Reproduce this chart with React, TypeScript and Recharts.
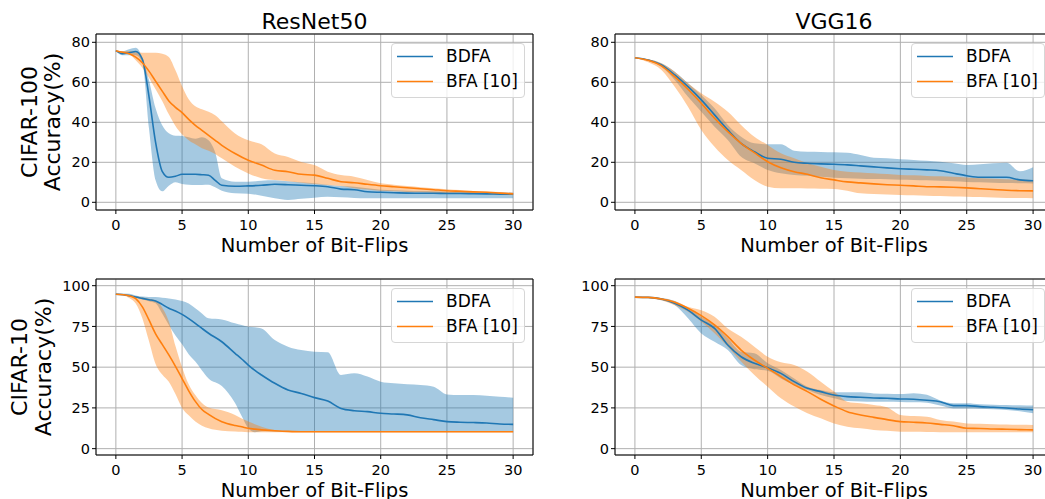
import React from 'react';
import {
  ComposedChart,
  Area,
  Line,
  XAxis,
  YAxis,
  CartesianGrid,
  ReferenceArea,
  Legend,
} from 'recharts';

/* =======================
   Colors / fonts
======================= */
const BLUE = '#1f77b4';
const ORANGE = '#ff7f0e';
const FONT = '"DejaVu Sans", sans-serif';

/* =======================
   Axes
======================= */
const X_TICKS = [0, 5, 10, 15, 20, 25, 30];
const X_DOMAIN: [number, number] = [-1.5, 31.5];
const Y_TICKS_C100 = [0, 20, 40, 60, 80];
const Y_TICKS_C10 = [0, 25, 50, 75, 100];

const LEGEND_ITEMS = [
  { name: 'BDFA', color: BLUE },
  { name: 'BFA [10]', color: ORANGE },
];

/* =======================
   ResNet50 / CIFAR-100
======================= */
const rn100Flips = [
  0, 0.5, 1, 1.5, 2, 2.5, 3, 3.5, 4, 4.5, 5, 5.5, 6, 6.5, 7, 7.5, 8,
  9, 10, 11, 12, 13, 14, 15, 16, 17, 18, 19, 20, 21, 22, 23, 24, 25, 26, 27, 28, 29, 30,
];
const rn100Bdfa = [
  75.8, 74.3, 74.8, 75.4, 71.5, 53, 30, 15.5, 12.5, 13, 14, 14, 14, 13.8, 13.5, 11, 8.5,
  8, 8.2, 8.5, 9, 8.8, 8.5, 8.3, 7.8, 6.6, 6.3, 5.3, 5, 4.8, 4.6, 4.5, 4.5, 4.4, 4.4, 4.3, 4.2, 4.1, 4,
];
const rn100BdfaHi = [
  76, 75.5, 76.5, 77.3, 72.5, 61, 47, 38.5, 34.5, 33.3, 33.2, 32.5, 31.8, 32.5, 31, 25, 12,
  10.3, 10.3, 10.8, 11, 10.5, 10, 9.5, 8.8, 8.2, 7.8, 7, 6.3, 6, 5.8, 5.6, 5.5, 5.3, 5.2, 5.1, 5, 4.9, 4.8,
];
const rn100BdfaLo = [
  75.5, 73.5, 73.5, 73.5, 69.8, 37, 11, 5.5, 8.3, 10, 9.1, 8.8, 8.6, 8.7, 8.8, 7.5, 5.8,
  4.5, 4.3, 3.3, 2, 1.2, 1.8, 2.3, 2.8, 2.5, 2.2, 2, 2, 2, 2, 2, 2, 2, 2, 2, 2, 2, 2,
];
const rn100Bfa = [
  75.8, 75, 74.3, 72.6, 69.8, 65.6, 60.6, 55.6, 50.7, 47.5, 44.8, 41.5, 38.5, 36, 33.5, 31, 28.5,
  24.4, 21, 18.6, 16, 15.3, 14, 13.6, 12, 10.3, 9.8, 9, 8.3, 7.8, 7.3, 6.8, 6.3, 5.8, 5.5, 5.2, 5, 4.6, 4.2,
];
const rn100BfaHi = [
  75.8, 75.6, 75.6, 75, 74.8, 74.8, 74.8, 74.3, 72.6, 66, 58, 51.5, 48, 46.5, 45.3, 43.5, 40.5,
  34.4, 31, 29, 24.4, 22.7, 20.2, 18.6, 15.3, 13.6, 12.8, 11.1, 9.5, 8.8, 8.1, 7.5, 7, 6.5, 6.1, 5.7, 5.4, 5.1, 4.8,
];
const rn100BfaLo = [
  75.5, 74.5, 74, 71, 67.3, 62.3, 56.5, 50.7, 44, 38.2, 34, 31, 29, 27, 25.8, 24.2, 22,
  17.8, 14.4, 12, 11.1, 10.5, 9.8, 9.1, 8.6, 8.1, 7, 6.4, 5.8, 5.5, 5.2, 5, 4.8, 4.5, 4.3, 4.1, 4, 3.8, 3.7,
];

/* =======================
   VGG16 / CIFAR-100
======================= */
const vggFlips = [
  0, 1, 2, 3, 4, 5, 6, 7, 8, 9, 10, 11, 12, 13, 14, 15, 16, 17, 18, 19, 20,
  21, 22, 23, 24, 25, 26, 27, 28, 29, 30,
];
const vgg100Bdfa = [
  72.3, 71.2, 68.7, 63.7, 57.8, 51.2, 43.7, 36.2, 29.5, 25.3, 22, 21.5, 20, 19.5, 19.2, 19,
  18.7, 18.2, 17.7, 17.2, 16.8, 16.5, 16.2, 15.8, 14.5, 13.3, 12.5, 12.5, 12.5, 11.2, 10.8,
];
const vgg100BdfaHi = [
  72.3, 71.5, 69.5, 65.3, 59.5, 53.7, 47, 38.7, 32.8, 29.5, 29, 29, 25.8, 25.3, 25.2, 25,
  24.8, 23.7, 22.3, 22, 21.5, 21.2, 20.8, 20.3, 19.5, 18.7, 19, 19.5, 19.8, 15.5, 17.5,
];
const vgg100BdfaLo = [
  72.3, 70.8, 67.8, 61.2, 52.8, 45.3, 37.8, 31.2, 22.8, 19.5, 16.2, 14.5, 13.7, 13.3, 12.8, 12.3,
  12, 11.8, 11.6, 11.5, 11.3, 11.2, 11, 10.8, 10.5, 10.2, 10, 9.8, 9.6, 9.5, 9.4,
];
const vgg100Bfa = [
  72.3, 71, 68.2, 62.8, 56.5, 49.5, 42, 35.3, 29.5, 24.8, 20.3, 17.3, 15.3, 14, 12.3, 11.2,
  10.2, 9.7, 9.2, 8.8, 8.5, 8.2, 7.8, 7.7, 7.5, 7.2, 6.8, 6.4, 6, 5.8, 5.7,
];
const vgg100BfaHi = [
  72.3, 71.5, 69.5, 65.3, 59.5, 54.5, 50.3, 45.3, 38.7, 32.8, 28.7, 24.5, 22, 19.5, 17.8, 16.2,
  15.3, 14.9, 14.5, 14.1, 13.7, 13.5, 13.2, 13, 12.8, 12.4, 12, 11.8, 11.5, 11.3, 11.2,
];
const vgg100BfaLo = [
  72.3, 70, 66.2, 57.8, 47.8, 36.2, 27.8, 21.2, 16.2, 11.2, 7.8, 7, 7, 6.9, 6.8, 6.7,
  5.8, 4.5, 4.2, 3.9, 3.7, 3.5, 3.3, 3.1, 2.9, 2.8, 2.6, 2.4, 2.2, 2.1, 2,
];

/* =======================
   ResNet50 / CIFAR-10
======================= */
const rn10Flips = [
  0, 1, 1.5, 2, 2.5, 3, 3.5, 4, 4.5, 5, 5.5, 6, 6.5, 7, 8, 9, 9.5, 10, 10.5, 11,
  12, 13, 14, 15, 16, 17, 18, 19, 20, 21, 22, 23, 24, 25, 26, 27, 28, 29, 30,
];
const rn10Bdfa = [
  94.7, 93.9, 93, 92.2, 91.4, 90.6, 88.5, 86.1, 84.5, 82.4, 79.8, 76.9, 73.8, 70.8, 65.6, 58.5,
  55, 51.3, 48, 45.2,
  40.1, 36, 33.9, 31.3, 29.2, 24.7, 23.3, 22.7, 21.7, 21.3, 20.7, 19, 17.8, 16.6, 16.2, 16, 15.7, 15.1, 14.9,
];
const rn10BdfaHi = [
  95.3, 95, 94, 93.3, 93, 93, 92.6, 92.2, 91.5, 90.6, 89, 86.1, 83, 80, 79.3, 76.9,
  75.8, 74.8, 74.5, 73.8,
  66.7, 62.6, 60.5, 59.5, 59.1, 45.2, 46.2, 44.2, 41.1, 40.1, 39.5, 39.1, 38, 33.3, 32.9, 32.9, 32.5, 31.9, 31.3,
];
const rn10BdfaLo = [
  94.7, 93.5, 92.5, 91.5, 90.5, 89.2, 83, 75.9, 69.5, 64, 58, 53.4, 48, 43.1, 38.5, 28,
  20, 12.5, 10, 10.6,
  10.5, 10.4, 10.4, 10.4, 10.4, 10.4, 10.4, 10.4, 10.4, 10.4, 10.4, 10.4, 10.4, 10.4, 10.4, 10.4, 10.4, 10.4, 10.4,
];
const rn10Bfa = [
  94.7, 93.8, 92, 87, 79, 70.5, 64, 57.5, 50.5, 43, 35.5, 29, 24, 21, 16.5, 14.2,
  13.4, 12.5, 12, 11.5,
  11, 10.6, 10.4, 10.4, 10.4, 10.4, 10.4, 10.4, 10.4, 10.4, 10.4, 10.4, 10.4, 10.4, 10.4, 10.4, 10.4, 10.4, 10.4,
];
const rn10BfaHi = [
  94.7, 94.3, 93.5, 92.8, 92, 91, 86.5, 78, 63, 50, 39.5, 32.9, 28, 25.2, 23.5, 20.7,
  18.5, 16.6, 15, 13.5,
  11.5, 10.8, 10.5, 10.5, 10.5, 10.5, 10.5, 10.5, 10.5, 10.5, 10.5, 10.5, 10.5, 10.5, 10.5, 10.5, 10.5, 10.5, 10.5,
];
const rn10BfaLo = [
  94.7, 92.5, 89, 80, 66, 52, 45.5, 41, 33.5, 25, 20.5, 16.6, 14, 12.5, 11, 10.5,
  10.3, 10, 10, 10,
  10, 10, 10, 10, 10, 10, 10, 10, 10, 10, 10, 10, 10, 10, 10, 10, 10, 10, 10,
];

/* =======================
   VGG16 / CIFAR-10
======================= */
const vgg10Bdfa = [
  93, 92.8, 91.8, 89.2, 85, 78.9, 73.8, 63.6, 56.4, 52.4, 49.7, 46.2, 41.1, 37, 35, 32.9,
  31.9, 31.5, 31.1, 30.9, 30.5, 30.3, 29.7, 28.8, 26.4, 26.4, 25.8, 25.4, 24.9, 24.3, 23.9,
];
const vgg10BdfaHi = [
  93, 93, 92.5, 90.6, 86.1, 81, 75.9, 67.7, 59.5, 58.5, 52.4, 48.3, 43.1, 38, 36, 34.6,
  34.6, 34.6, 33.9, 33.7, 33.5, 34, 33, 29.5, 27.8, 27.8, 27.2, 27, 26.8, 26.6, 26.4,
];
const vgg10BdfaLo = [
  93, 92.5, 91, 88.1, 80, 70.7, 65.6, 60.5, 51.3, 48.7, 47.8, 43.1, 39.1, 36, 32.9, 30.9,
  29.2, 29, 28.8, 28.8, 28.6, 28.4, 28.2, 26.4, 24.7, 24.7, 24.5, 24.2, 23.7, 23, 21.7,
];
const vgg10Bfa = [
  93, 92.8, 91.8, 89.8, 86.1, 81.6, 75.9, 68.7, 60.5, 54.4, 49.3, 44.2, 39.1, 35, 30.3, 26.2,
  22.7, 20.7, 19.2, 17.8, 16.6, 16.2, 15.7, 14.9, 14.1, 12.5, 12.4, 12.1, 11.9, 11.7, 11.5,
];
const vgg10BfaHi = [
  93, 93, 92.5, 90.6, 87.1, 85, 81, 73.8, 68.7, 62.6, 56.4, 53, 51.3, 47.2, 41.1, 35,
  28.8, 27.8, 26.8, 25.4, 20.7, 20, 19.6, 17.6, 16.6, 15.5, 15.2, 15, 14.8, 14.6, 14.5,
];
const vgg10BfaLo = [
  93, 92.5, 91, 88, 84, 77.9, 70.8, 62.6, 53.4, 45.2, 38, 30.9, 25.8, 21.7, 18.6, 15.5,
  13.5, 12.5, 11.5, 11, 10.4, 10.3, 10.2, 10.1, 10, 10, 10, 10, 10, 10, 10,
];

/* =======================
   Legend
======================= */
const LegendBox = () => (
  <div
    style={{
      position: 'relative',
      width: 134,
      height: 55,
      boxSizing: 'border-box',
      border: '1px solid #d6d6d6',
      borderRadius: 4,
      background: 'rgba(255,255,255,0.8)',
      fontFamily: FONT,
      fontSize: 17,
      color: '#000',
    }}
  >
    {LEGEND_ITEMS.map((item, i) => (
      <div
        key={item.name}
        style={{ position: 'absolute', left: 0, top: 2.2 + i * 25, width: '100%', height: 21 }}
      >
        <svg width={40} height={21} style={{ position: 'absolute', left: 3, top: 0 }}>
          <line x1={2} x2={38} y1={10.5} y2={10.5} stroke={item.color} strokeWidth={1.7} />
        </svg>
        <span style={{ position: 'absolute', left: 54, top: 0, lineHeight: '21px', whiteSpace: 'nowrap' }}>
          {item.name}
        </span>
      </div>
    ))}
  </div>
);

/* =======================
   Panel
======================= */
interface PanelProps {
  flips: number[];
  bdfa: number[];
  bdfaLo: number[];
  bdfaHi: number[];
  bfa: number[];
  bfaLo: number[];
  bfaHi: number[];
  yTicks: number[];
  yDomain: [number, number];
  left: number;
  top: number;
  width: number;
  height: number;
  yAxisWidth: number;
  marginTop: number;
  xAxisHeight: number;
  legendLeft: number;
  legendTop: number;
  labelOffset: number;
}

const tickStyle = { fontSize: 14.5, fill: '#000', fontFamily: FONT };

const Panel: React.FC<PanelProps> = (p) => {
  const data = p.flips.map((x, i) => ({
    x,
    bdfa: p.bdfa[i],
    bfa: p.bfa[i],
    bdfaBand: [p.bdfaLo[i], p.bdfaHi[i]],
    bfaBand: [p.bfaLo[i], p.bfaHi[i]],
  }));

  return (
    <div style={{ position: 'absolute', left: p.left, top: p.top }}>
      <ComposedChart
        width={p.width}
        height={p.height}
        data={data}
        margin={{ top: p.marginTop, right: 12, bottom: 0, left: 0 }}
      >
        <XAxis
          type="number"
          dataKey="x"
          domain={X_DOMAIN}
          ticks={X_TICKS}
          allowDataOverflow
          interval={0}
          height={p.xAxisHeight}
          axisLine={false}
          tickLine={{ stroke: '#000' }}
          tickSize={4}
          tickMargin={6}
          tick={tickStyle}
          label={{
            value: 'Number of Bit-Flips',
            position: 'insideBottom',
            offset: p.labelOffset,
            fontSize: 19.5,
            fill: '#000',
            fontFamily: FONT,
          }}
        />
        <YAxis
          type="number"
          domain={p.yDomain}
          ticks={p.yTicks}
          allowDataOverflow
          interval={0}
          width={p.yAxisWidth}
          axisLine={false}
          tickLine={{ stroke: '#000' }}
          tickSize={4}
          tickMargin={2}
          tick={tickStyle}
        />
        <Area
          dataKey="bdfaBand"
          type="monotone"
          stroke="none"
          fill={BLUE}
          fillOpacity={0.4}
          activeDot={false}
          isAnimationActive={false}
        />
        <Area
          dataKey="bfaBand"
          type="monotone"
          stroke="none"
          fill={ORANGE}
          fillOpacity={0.4}
          activeDot={false}
          isAnimationActive={false}
        />
        <CartesianGrid stroke="#b0b0b0" strokeWidth={1} />
        <Line
          dataKey="bdfa"
          type="monotone"
          stroke={BLUE}
          strokeWidth={1.6}
          dot={false}
          activeDot={false}
          isAnimationActive={false}
        />
        <Line
          dataKey="bfa"
          type="monotone"
          stroke={ORANGE}
          strokeWidth={1.6}
          dot={false}
          activeDot={false}
          isAnimationActive={false}
        />
        <ReferenceArea
          x1={X_DOMAIN[0]}
          x2={X_DOMAIN[1]}
          y1={p.yDomain[0]}
          y2={p.yDomain[1]}
          fill="none"
          stroke="#000"
          strokeWidth={1}
          ifOverflow="visible"
        />
        <Legend
          layout="vertical"
          align="center"
          verticalAlign="middle"
          wrapperStyle={{ left: p.legendLeft, top: p.legendTop, width: 134, height: 55, zIndex: 5 }}
          content={() => <LegendBox />}
        />
      </ComposedChart>
    </div>
  );
};

/* =======================
   App
======================= */
const C100_DOMAIN: [number, number] = [-3.85, 84.15];
const C10_DOMAIN: [number, number] = [-3.9, 104.1];

const TOP_ROW = { top: 0, height: 260, marginTop: 34, xAxisHeight: 50, legendTop: 43, labelOffset: 8.3 };
const BOTTOM_ROW = { top: 250, height: 249, marginTop: 29, xAxisHeight: 44, legendTop: 38, labelOffset: 2.3 };
const LEFT_COL = { left: 0, width: 545, yAxisWidth: 96, legendLeft: 391 };
const RIGHT_COL = { left: 530, width: 535, yAxisWidth: 85, legendLeft: 381 };

const titleStyle = { fontFamily: FONT, fontSize: 22, fill: '#000' };

export default function App() {
  return (
    <div
      style={{
        position: 'absolute',
        left: 0,
        top: 0,
        width: 1045,
        height: 499,
        overflow: 'hidden',
        background: '#fff',
      }}
    >
      <Panel
        {...TOP_ROW}
        {...LEFT_COL}
        flips={rn100Flips}
        bdfa={rn100Bdfa}
        bdfaLo={rn100BdfaLo}
        bdfaHi={rn100BdfaHi}
        bfa={rn100Bfa}
        bfaLo={rn100BfaLo}
        bfaHi={rn100BfaHi}
        yTicks={Y_TICKS_C100}
        yDomain={C100_DOMAIN}
      />
      <Panel
        {...TOP_ROW}
        {...RIGHT_COL}
        flips={vggFlips}
        bdfa={vgg100Bdfa}
        bdfaLo={vgg100BdfaLo}
        bdfaHi={vgg100BdfaHi}
        bfa={vgg100Bfa}
        bfaLo={vgg100BfaLo}
        bfaHi={vgg100BfaHi}
        yTicks={Y_TICKS_C100}
        yDomain={C100_DOMAIN}
      />
      <Panel
        {...BOTTOM_ROW}
        {...LEFT_COL}
        flips={rn10Flips}
        bdfa={rn10Bdfa}
        bdfaLo={rn10BdfaLo}
        bdfaHi={rn10BdfaHi}
        bfa={rn10Bfa}
        bfaLo={rn10BfaLo}
        bfaHi={rn10BfaHi}
        yTicks={Y_TICKS_C10}
        yDomain={C10_DOMAIN}
      />
      <Panel
        {...BOTTOM_ROW}
        {...RIGHT_COL}
        flips={vggFlips}
        bdfa={vgg10Bdfa}
        bdfaLo={vgg10BdfaLo}
        bdfaHi={vgg10BdfaHi}
        bfa={vgg10Bfa}
        bfaLo={vgg10BfaLo}
        bfaHi={vgg10BfaHi}
        yTicks={Y_TICKS_C10}
        yDomain={C10_DOMAIN}
      />

      {/* titles and row labels */}
      <svg
        width={1045}
        height={499}
        style={{ position: 'absolute', left: 0, top: 0, pointerEvents: 'none' }}
      >
        <text x={314.5} y={29} textAnchor="middle" {...titleStyle}>ResNet50</text>
        <text x={834} y={29} textAnchor="middle" {...titleStyle}>VGG16</text>
        <text transform="translate(36.5,122) rotate(-90)" textAnchor="middle" {...titleStyle}>CIFAR-100</text>
        <text transform="translate(59.5,122) rotate(-90)" textAnchor="middle" {...titleStyle}>Accuracy(%)</text>
        <text transform="translate(27,367) rotate(-90)" textAnchor="middle" {...titleStyle}>CIFAR-10</text>
        <text transform="translate(50.5,367) rotate(-90)" textAnchor="middle" {...titleStyle}>Accuracy(%)</text>
      </svg>
    </div>
  );
}
